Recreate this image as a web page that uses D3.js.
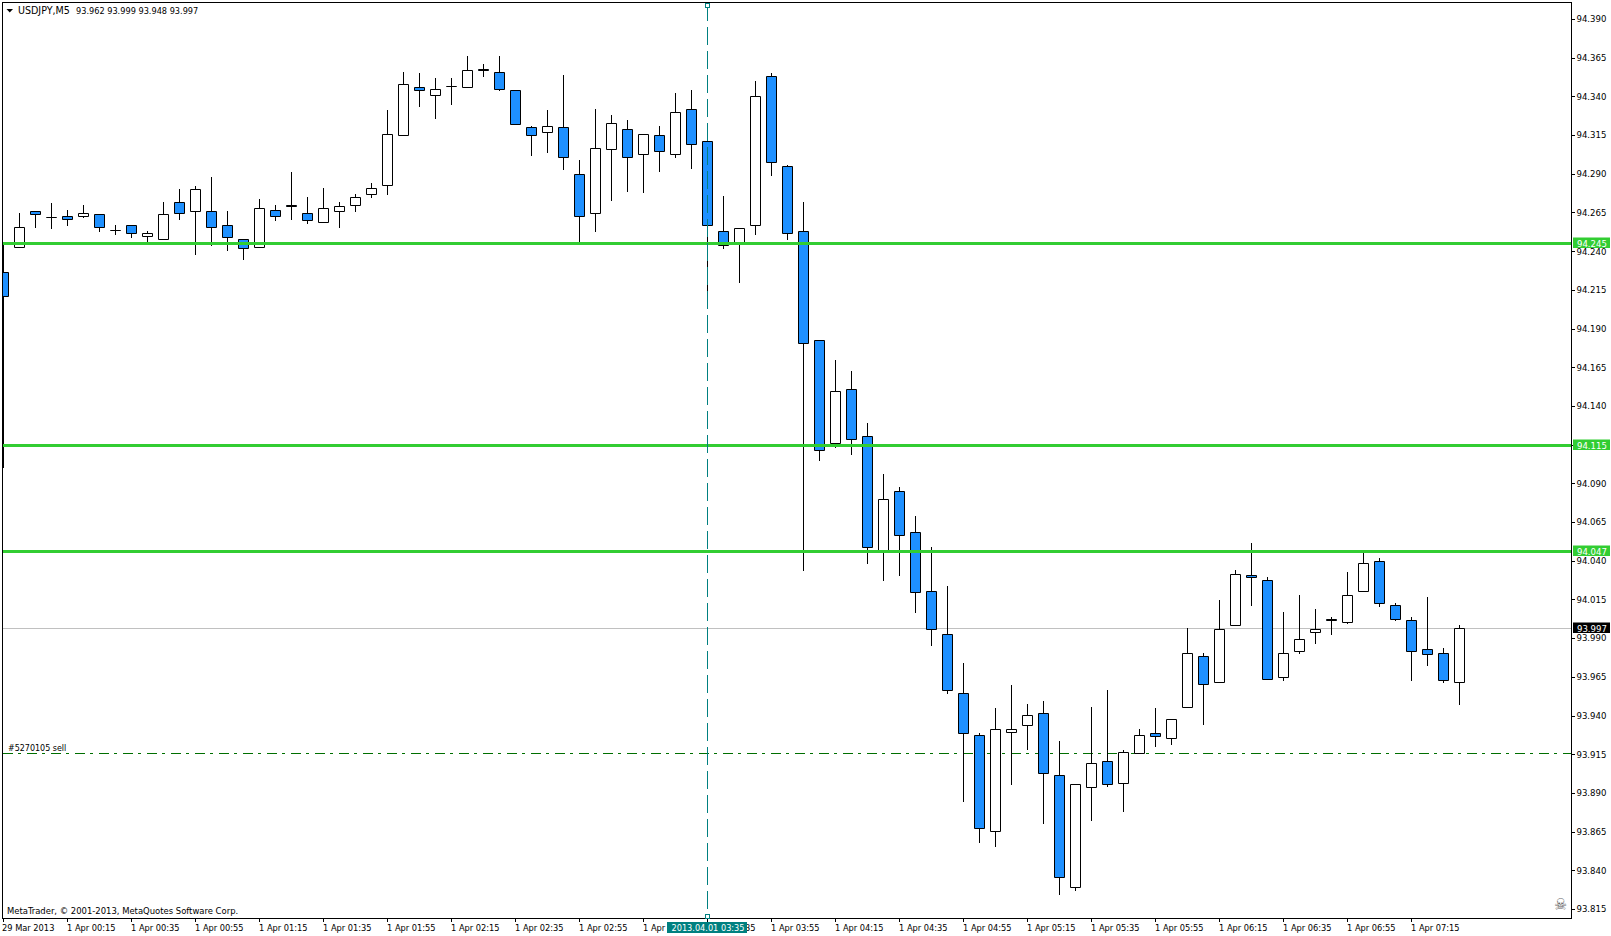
<!DOCTYPE html>
<html><head><meta charset="utf-8">
<script src="https://cdn.jsdelivr.net/npm/d3@7/dist/d3.min.js"></script>
<style>
html,body{margin:0;padding:0;background:#fff;overflow:hidden}
svg{display:block}
text{font-family:"DejaVu Sans Condensed","DejaVu Sans",sans-serif;font-stretch:condensed;font-size:9.5px;fill:#000}
</style></head><body>
<div id="chart"></div>
<script>
const symbolTitle = "USDJPY,M5";
const headerQuote = "93.962 93.999 93.948 93.997";
const copyrightText = "MetaTrader, © 2001-2013, MetaQuotes Software Corp.";
const orderText = "#5270105 sell";
const cursorLabel = "2013.04.01 03:35";
const cursorIndex = 43;

const openPrices = [94.2266,
94.2427,94.2660,94.2621,94.2628,94.2628,94.2641,94.2537,94.2570,94.2499,94.2479,
94.2718,94.2660,94.2660,94.2570,94.2479,94.2427,94.2666,94.2699,94.2647,94.2589,
94.2660,94.2699,94.2770,94.2828,94.3151,94.3461,94.3409,94.3467,94.3461,94.3577,
94.3558,94.3442,94.3202,94.3170,94.3202,94.2899,94.2647,94.3060,94.3189,94.3028,
94.3151,94.3028,94.3319,94.3112,94.2531,94.2447,94.2570,94.3532,94.2950,94.2531,
94.1827,94.1161,94.1510,94.1206,94.0457,94.0851,94.0586,94.0205,93.9927,93.9546,
93.9275,93.8655,93.9294,93.9339,93.9417,93.9016,93.8293,93.8939,93.9107,93.8965,
93.9158,93.9288,93.9255,93.9456,93.9786,93.9617,93.9986,94.0308,94.0276,93.9650,
93.9818,93.9940,94.0024,94.0005,94.0205,94.0399,94.0115,94.0018,93.9831,93.9805,
93.9617];
const highPrices = [94.2453,
94.2647,94.2660,94.2712,94.2666,94.2699,94.2641,94.2570,94.2570,94.2531,94.2718,
94.2802,94.2821,94.2879,94.2660,94.2479,94.2737,94.2699,94.2912,94.2750,94.2809,
94.2718,94.2770,94.2841,94.3312,94.3558,94.3551,94.3519,94.3519,94.3661,94.3609,
94.3661,94.3442,94.3209,94.3312,94.3538,94.2989,94.3319,94.3280,94.3248,94.3157,
94.3209,94.3422,94.3442,94.3112,94.2757,94.2550,94.3500,94.3551,94.2957,94.2718,
94.1827,94.1697,94.1626,94.1290,94.0961,94.0877,94.0690,94.0489,94.0237,93.9740,
93.9288,93.9449,93.9598,93.9475,93.9494,93.9236,93.8958,93.9456,93.9565,93.9178,
93.9313,93.9449,93.9378,93.9966,93.9805,94.0147,94.0341,94.0515,94.0295,94.0069,
94.0179,94.0089,94.0037,94.0328,94.0457,94.0418,94.0128,94.0037,94.0166,93.9837,
93.9986];
const lowPrices = [94.1006,
94.2427,94.2557,94.2550,94.2570,94.2621,94.2531,94.2512,94.2492,94.2460,94.2479,
94.2608,94.2382,94.2440,94.2408,94.2350,94.2427,94.2602,94.2608,94.2583,94.2589,
94.2557,94.2660,94.2750,94.2770,94.3151,94.3338,94.3260,94.3351,94.3461,94.3532,
94.3442,94.3221,94.3022,94.3041,94.2931,94.2453,94.2531,94.2731,94.2789,94.2783,
94.2918,94.3009,94.2938,94.2143,94.2421,94.2201,94.2512,94.2892,94.2479,94.0341,
94.1051,94.1135,94.1090,94.0386,94.0276,94.0308,94.0069,93.9856,93.9546,93.8848,
93.8584,93.8558,93.8958,93.9184,93.8706,93.8248,93.8273,93.8726,93.8945,93.8784,
93.9158,93.9204,93.9217,93.9456,93.9346,93.9617,93.9986,94.0115,93.9637,93.9630,
93.9805,93.9869,93.9927,93.9999,94.0205,94.0108,94.0018,93.9630,93.9727,93.9617,
93.9475];
const closePrices = [94.2111,
94.2557,94.2641,94.2621,94.2608,94.2647,94.2557,94.2537,94.2518,94.2518,94.2641,
94.2647,94.2802,94.2557,94.2492,94.2421,94.2679,94.2628,94.2692,94.2602,94.2679,
94.2692,94.2750,94.2809,94.3157,94.3480,94.3442,94.3448,94.3467,94.3571,94.3571,
94.3448,94.3221,94.3151,94.3209,94.3009,94.2628,94.3067,94.3228,94.3009,94.3157,
94.3047,94.3299,94.3092,94.2570,94.2440,94.2550,94.3403,94.2976,94.2518,94.1807,
94.1116,94.1497,94.1187,94.0489,94.0799,94.0567,94.0199,93.9959,93.9565,93.9288,
93.8674,93.9313,93.9313,93.9404,93.9029,93.8357,93.8958,93.9094,93.8958,93.9165,
93.9275,93.9268,93.9378,93.9805,93.9604,93.9959,94.0315,94.0295,93.9637,93.9805,
93.9895,93.9959,94.0018,94.0179,94.0386,94.0128,94.0024,93.9818,93.9798,93.9630,
93.9966];

const priceTicks = [94.390,94.365,94.340,94.315,94.290,94.265,94.240,94.215,94.190,94.165,94.140,94.115,
94.090,94.065,94.040,94.015,93.990,93.965,93.940,93.915,93.890,93.865,93.840,93.815];
const timeTickIndex = [-1,3,7,11,15,19,23,27,31,35,39,43,47,51,55,59,63,67,71,75,79,83,87];
const timeTickLabels = ["29 Mar 2013","1 Apr 00:15","1 Apr 00:35","1 Apr 00:55","1 Apr 01:15","1 Apr 01:35","1 Apr 01:55","1 Apr 02:15","1 Apr 02:35","1 Apr 02:55","1 Apr 03:15","1 Apr 03:35","1 Apr 03:55","1 Apr 04:15","1 Apr 04:35","1 Apr 04:55","1 Apr 05:15","1 Apr 05:35","1 Apr 05:55","1 Apr 06:15","1 Apr 06:35","1 Apr 06:55","1 Apr 07:15"];

const greenLevels = [94.2453,94.1148,94.0464];
const greenLabels = ["94.245","94.115","94.047"];
const bidLevel = 93.9966;
const bidLabel = "93.997";
const orderLevel = 93.9158;

const W=1611,H=936,L=2.5,T=2.5,R=1571.5,B=918.5;
const upFill="#ffffff",downFill="#1e90ff",stroke="#000",green="#32cd32",teal="#008080";

const candles = openPrices.map((o,i)=>({i:i-1,o,h:highPrices[i],l:lowPrices[i],c:closePrices[i]}));
const x = d3.scaleLinear().domain([-1,90]).range([3.5,1459.5]);
const y = d3.scaleLinear().domain([94.39,93.815]).range([19.5,909.5]);
const sy = v => Math.round(y(v)-0.5)+0.5;

const svg = d3.select("#chart").append("svg").attr("width",W).attr("height",H);
svg.append("defs").append("clipPath").attr("id","plot").append("rect").attr("x",3).attr("y",3).attr("width",R-3).attr("height",B-3);
const plot = svg.append("g").attr("clip-path","url(#plot)");

// lines behind the candles
plot.append("line").attr("x1",3).attr("x2",R).attr("y1",sy(bidLevel)).attr("y2",sy(bidLevel)).attr("stroke","#c0c0c0").attr("shape-rendering","crispEdges");
plot.append("line").attr("x1",3).attr("x2",R).attr("y1",sy(orderLevel)).attr("y2",sy(orderLevel)).attr("stroke","#006f00").attr("stroke-dasharray","10,5,3,6").attr("shape-rendering","crispEdges");

// candles
const g = plot.selectAll("g.c").data(candles).join("g").attr("class","c");
g.append("line").attr("x1",d=>x(d.i)).attr("x2",d=>x(d.i)).attr("y1",d=>sy(d.h)-.5).attr("y2",d=>sy(d.l)+.5).attr("stroke",stroke).attr("shape-rendering","crispEdges");
g.append("path").attr("d",d=>{
  const a=sy(Math.max(d.o,d.c)),b=sy(Math.min(d.o,d.c)),cx=x(d.i);
  return `M${cx-5} ${a}H${cx+5}V${b}H${cx-5}Z`;
}).attr("fill",d=>d.c<d.o?downFill:upFill).attr("stroke",stroke).attr("stroke-width",1);

// green horizontal levels
plot.selectAll("line.lvl").data(greenLevels).join("line").attr("class","lvl")
 .attr("x1",3).attr("x2",R).attr("y1",d=>sy(d)).attr("y2",d=>sy(d)).attr("stroke",green).attr("stroke-width",3).attr("shape-rendering","crispEdges");

// cursor
const cx = Math.floor(x(cursorIndex))+.5;
plot.append("line").attr("x1",cx).attr("x2",cx).attr("y1",3).attr("y2",B).attr("stroke",teal).attr("stroke-dasharray","18,6").attr("shape-rendering","crispEdges");

// frame
svg.append("rect").attr("x",L).attr("y",T).attr("width",R-L).attr("height",B-T).attr("fill","none").attr("stroke","#000");

// cursor handles
[[3.5],[914.5]].forEach(([yy])=>{
  svg.append("rect").attr("x",cx-2).attr("y",yy).attr("width",4).attr("height",4).attr("fill","#fff").attr("stroke",teal);
});

// axes
const yAxis = d3.axisRight(y).tickValues(priceTicks).tickSize(3).tickPadding(2).tickFormat(d3.format(".3f")).offset(0);
const gy = svg.append("g").attr("transform",`translate(${R},0)`).call(yAxis);
gy.select(".domain").remove();
gy.selectAll("line").attr("shape-rendering","crispEdges");
gy.selectAll("text").attr("dy","0.3em");

const xAxis = d3.axisBottom(x).tickValues(timeTickIndex).tickSize(3).tickFormat((d,i)=>timeTickLabels[i]).offset(0);
const gx = svg.append("g").attr("transform",`translate(0,${B})`).call(xAxis);
gx.select(".domain").remove();
gx.selectAll("line").attr("shape-rendering","crispEdges");
gx.selectAll("text").attr("text-anchor","start").attr("x",d=>d===-1?-1.5:-0.5).attr("y",0).attr("dy","12px").style("font-size","9.2px");
gy.attr("font-size",null).attr("font-family",null);
gx.attr("font-size",null).attr("font-family",null);

// price flags
const flags = greenLevels.map((v,i)=>({v,t:greenLabels[i],bg:green})).concat([{v:bidLevel,t:bidLabel,bg:"#000"}]);
const fg = svg.selectAll("g.flag").data(flags).join("g").attr("class","flag");
fg.append("rect").attr("x",1573).attr("width",37).attr("y",d=>sy(d.v)-6).attr("height",10.5).attr("fill",d=>d.bg);
fg.append("text").attr("x",1577).attr("y",d=>sy(d.v)+3).style("fill","#fff").text(d=>d.t);

// time flag
svg.append("rect").attr("x",667).attr("y",922).attr("width",80).attr("height",11).attr("fill",teal);
svg.append("text").attr("x",671.5).attr("y",931).style("fill","#fff").style("font-size","9.1px").text(cursorLabel);

// header
svg.append("path").attr("d",d3.line()([[6.5,9],[13,9],[9.75,12.5]])+"Z").attr("fill","#000");
svg.append("text").attr("x",18).attr("y",14).style("font-size","10.6px").text(symbolTitle);
svg.append("text").attr("x",76).attr("y",14).style("font-size","9.1px").text(headerQuote);

// annotations
svg.append("text").attr("x",8).attr("y",751).style("font-size","8.9px").text(orderText);
svg.append("text").attr("x",7).attr("y",914).style("font-size","9.4px").text(copyrightText);
svg.append("text").attr("x",1560.5).attr("y",910).attr("text-anchor","middle").style("font-size","16px").style("fill","#666").text("☠");
</script>
</body></html>
